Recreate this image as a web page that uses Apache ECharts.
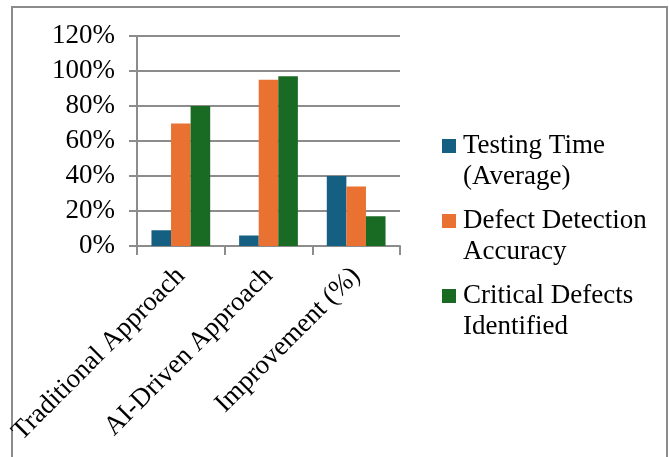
<!DOCTYPE html>
<html>
<head>
<meta charset="utf-8">
<script src="https://cdn.jsdelivr.net/npm/echarts@6/dist/echarts.min.js"></script>
<style>
html,body{margin:0;padding:0;background:#fff;}
#main{width:669px;height:457px;}
</style>
</head>
<body>
<div id="main"></div>
<script>
const categories = ['Traditional Approach', 'AI-Driven Approach', 'Improvement (%)'];
const seriesNames = ['Testing Time\n(Average)', 'Defect Detection\nAccuracy', 'Critical Defects\nIdentified'];
const testingTime = [0.09, 0.06, 0.40];
const defectAccuracy = [0.70, 0.95, 0.34];
const criticalDefects = [0.80, 0.97, 0.17];
const yTicks = [0, 0.2, 0.4, 0.6, 0.8, 1.0, 1.2];
const colors = ['#156082', '#E97132', '#196B24'];

const font = 'Liberation Serif';
const chart = echarts.init(document.getElementById('main'), null, {renderer: 'canvas'});
const seriesData = [testingTime, defectAccuracy, criticalDefects];
const legendIcon = 'path://M0 0H14V14H0Z M0 44H0.01V44.01H0Z';

chart.setOption({
  animation: false,
  backgroundColor: '#fff',
  textStyle: {fontFamily: font},
  graphic: [{
    type: 'rect',
    shape: {x: 12, y: 7, width: 655, height: 470},
    style: {fill: 'none', stroke: '#8c8c8c', lineWidth: 2},
    silent: true
  }],
  grid: {left: 137, right: 269, top: 36, bottom: 211, containLabel: false},
  legend: {
    orient: 'vertical',
    left: 442,
    top: 130,
    padding: 0,
    itemWidth: 14,
    itemHeight: 44,
    itemGap: 13,
    icon: legendIcon,
    textStyle: {fontFamily: font, fontSize: 27, lineHeight: 31, color: '#000', padding: [0, 0, 0, 2]},
    data: seriesNames
  },
  xAxis: {
    type: 'category',
    data: categories,
    axisLine: {show: true, lineStyle: {color: '#8c8c8c', width: 2}},
    axisTick: {show: true, length: 9, lineStyle: {color: '#8c8c8c', width: 2}},
    axisLabel: {rotate: 45, margin: 26, fontFamily: font, fontSize: 27, color: '#000', interval: 0}
  },
  yAxis: {
    type: 'value',
    min: yTicks[0],
    max: yTicks[yTicks.length - 1],
    interval: 0.2,
    axisLine: {show: true, lineStyle: {color: '#8c8c8c', width: 2}},
    axisTick: {show: true, inside: false, length: 8, lineStyle: {color: '#8c8c8c', width: 2}},
    splitLine: {show: true, lineStyle: {color: '#8c8c8c', width: 2}},
    axisLabel: {margin: 22, fontFamily: font, fontSize: 27, color: '#000',
      formatter: v => Math.round(v * 100) + '%'}
  },
  series: seriesNames.map((name, i) => ({
    name: name,
    type: 'bar',
    data: seriesData[i],
    barGap: '0%',
    barCategoryGap: '33%',
    itemStyle: {color: colors[i]}
  }))
});
</script>
</body>
</html>
